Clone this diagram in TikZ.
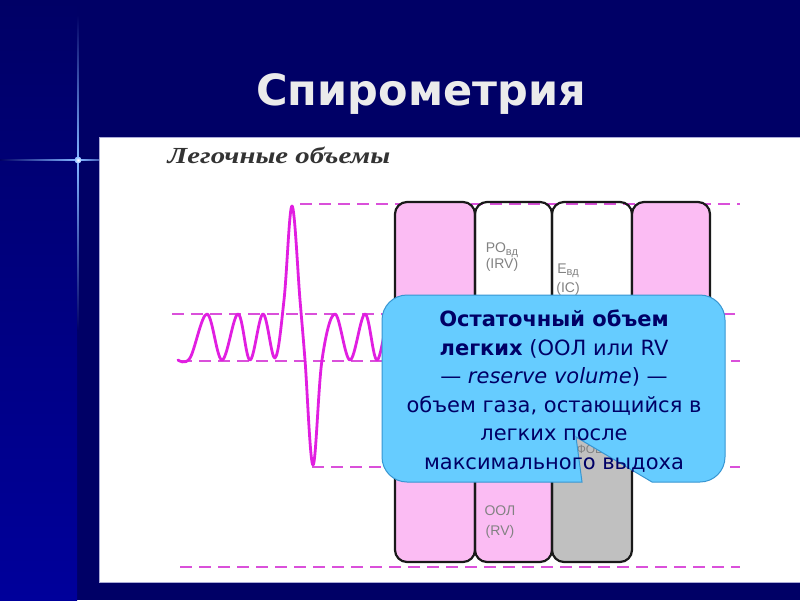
\documentclass[tikz,border=0pt]{standalone}
\usepackage{graphicx}
\usepackage{fontspec}
\setmainfont{DejaVu Sans}
\newfontfamily\lsans{Liberation Sans}
\newfontfamily\lserif{Liberation Serif}
\definecolor{navy}{RGB}{0,0,102}
\definecolor{bandbot}{RGB}{0,0,155}
\definecolor{pinkcol}{RGB}{251,188,243}
\definecolor{graycol}{RGB}{192,192,192}
\definecolor{wavec}{RGB}{225,30,225}
\definecolor{dashc}{RGB}{218,80,218}
\definecolor{callfill}{RGB}{102,204,255}
\definecolor{calldraw}{RGB}{55,150,210}
\definecolor{calltext}{RGB}{0,0,102}
\definecolor{titlec}{RGB}{235,235,235}
\definecolor{lblc}{RGB}{130,130,130}
\definecolor{spark}{RGB}{130,180,255}
\definecolor{edgec}{RGB}{170,170,215}
\begin{document}
\begin{tikzpicture}[x=1pt,y=-1pt,
  colbox/.style={draw=black!90, line width=2.2pt, rounded corners=12pt, rectangle, inner sep=0pt, outer sep=0pt},
  level/.style={dashc, line width=2.8pt, dash pattern=on 12pt off 7pt},
  lbl/.style={text=lblc, font=\lsans\fontsize{14}{14}\selectfont, inner sep=0pt},
]
\useasboundingbox (0,0) rectangle (800,600);
% background
\fill[navy] (0,0) rectangle (800,600);
\shade[top color=navy, bottom color=bandbot] (0,0) rectangle (77,600);
% sparkle
\shade[top color=navy, bottom color=spark] (77.2,15) rectangle (78.8,158);
\shade[top color=spark, bottom color=navy] (77.2,162) rectangle (78.8,330);
\shade[left color=navy, right color=spark] (0,159.2) rectangle (76,160.8);
\shade[left color=spark, right color=navy!50!spark] (80,159.2) rectangle (99,160.8);
\shade[inner color=white, outer color=spark] (78,160) circle (3.5);
% title
\node[text=titlec, font=\bfseries\fontsize{43}{50}\selectfont, anchor=base, inner sep=0pt] (title) at (421,105) {Спирометрия};
% panel
\fill[white] (99,137) rectangle (800,582);
\draw[edgec, line width=1pt] (800,137) -- (99,137) -- (99,582) -- (800,582);
\node[text=black!80, font=\lserif\bfseries\itshape\fontsize{23}{23}\selectfont, inner sep=0pt] (hdr) at (279,155) {\scalebox{1.25}[1]{Легочные объемы}};
% levels
\draw[level] (300,204) -- (740,204);
\draw[level] (172,314) -- (740,314);
\draw[level] (180,361) -- (740,361);
\draw[level] (312,467) -- (740,467);
\draw[level] (180,567) -- (740,567);
% wave
\draw[wavec, line width=2.8pt, line join=round, line cap=round] plot[smooth, tension=0.6] coordinates {
 (178,360) (190,358) (207,314) (222,360) (238,314) (250,360) (263,314) (275,358)
 (284,300) (292,206) (300,300) (305,360) (313,465) (322,360) (335,314) (350,360)
 (365,314) (377,360) (390,314) (400,360)};
% columns
\fill[pinkcol, rounded corners=12pt] (475,467) rectangle (552,562);
\fill[graycol, rounded corners=12pt] (552,360) rectangle (632,562);
\node[colbox, fill=pinkcol, minimum width=80pt, minimum height=360pt] (col1) at (435,382) {};
\node[colbox, minimum width=77pt, minimum height=360pt] (col2) at (513.5,382) {};
\node[colbox, minimum width=80pt, minimum height=360pt] (col3) at (592,382) {};
\node[colbox, fill=pinkcol, minimum width=78pt, minimum height=265pt] (col4) at (671,334.5) {};
% column labels
\node[lbl] (irv1) at (502,250) {РО\raisebox{-2.5pt}{\fontsize{11}{11}\selectfont вд}};
\node[lbl] (irv2) at (502,265) {(IRV)};
\node[lbl] (ic1) at (568,271) {Е\raisebox{-2.5pt}{\fontsize{11}{11}\selectfont вд}};
\node[lbl] (ic2) at (568,289) {(IC)};
\node[lbl] (rv1) at (500,511) {ООЛ};
\node[lbl] (rv2) at (500,532) {(RV)};
\node[lbl, font=\lsans\fontsize{12}{12}\selectfont] (frc) at (590,449) {ФОЕ};
% callout
\draw[fill=callfill, draw=calldraw, line width=1pt]
 (382,320) arc[start angle=180, end angle=270, radius=25] -- (700,295)
 arc[start angle=270, end angle=360, radius=25] -- (725,457)
 arc[start angle=0, end angle=90, radius=25] -- (652,482) -- (576,437) -- (582,482) -- (407,482)
 arc[start angle=90, end angle=180, radius=25] -- cycle;
\node[text=calltext, align=center, font=\fontsize{21}{28.5}\selectfont, inner sep=0pt] (calltxt) at (554,391)
 {\textbf{Остаточный объем}\\ \textbf{легких} (ООЛ или RV\\ — \textit{reserve volume}) —\\ объем газа, остающийся в\\ легких после\\ максимального выдоха};
\end{tikzpicture}
\end{document}
